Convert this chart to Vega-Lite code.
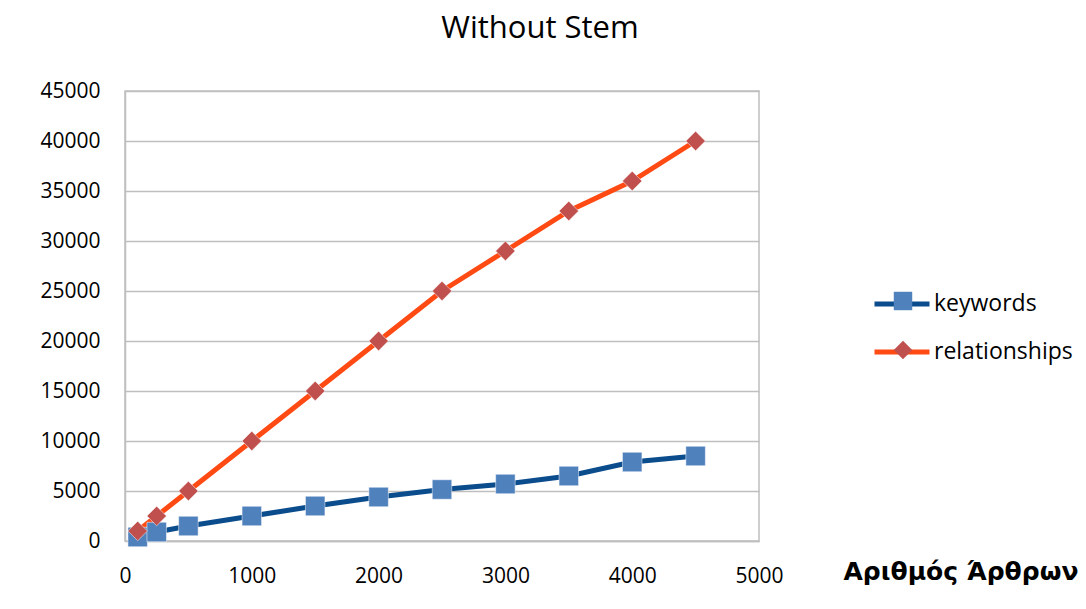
{
  "$schema": "https://vega.github.io/schema/vega-lite/v6.json",
  "width": 634,
  "height": 450,
  "autosize": {"type": "none"},
  "padding": {"left": 125, "top": 91, "right": 327, "bottom": 68},
  "title": {"text": "Without Stem", "fontSize": 31, "font": "Open Sans", "fontWeight": "normal", "color": "#000000", "anchor": "middle", "dx": 98, "offset": 35},
  "config": {
    "view": {"stroke": "#BFBFBF", "strokeWidth": 1.5},
    "axis": {"labelFont": "Open Sans", "labelFontSize": 21, "labelColor": "#000000", "ticks": false, "domainColor": "#BFBFBF", "domainWidth": 1.5, "gridColor": "#BFBFBF", "gridWidth": 1.5}
  },
  "data": {"values": [
    {"n": 100, "series": "keywords", "value": 400},
    {"n": 250, "series": "keywords", "value": 900},
    {"n": 500, "series": "keywords", "value": 1500},
    {"n": 1000, "series": "keywords", "value": 2500},
    {"n": 1500, "series": "keywords", "value": 3500},
    {"n": 2000, "series": "keywords", "value": 4400},
    {"n": 2500, "series": "keywords", "value": 5150},
    {"n": 3000, "series": "keywords", "value": 5700},
    {"n": 3500, "series": "keywords", "value": 6500},
    {"n": 4000, "series": "keywords", "value": 7900},
    {"n": 4500, "series": "keywords", "value": 8500},
    {"n": 100, "series": "relationships", "value": 1000},
    {"n": 250, "series": "relationships", "value": 2500},
    {"n": 500, "series": "relationships", "value": 5000},
    {"n": 1000, "series": "relationships", "value": 10000},
    {"n": 1500, "series": "relationships", "value": 15000},
    {"n": 2000, "series": "relationships", "value": 20000},
    {"n": 2500, "series": "relationships", "value": 25000},
    {"n": 3000, "series": "relationships", "value": 29000},
    {"n": 3500, "series": "relationships", "value": 33000},
    {"n": 4000, "series": "relationships", "value": 36000},
    {"n": 4500, "series": "relationships", "value": 40000}
  ]},
  "encoding": {
    "x": {"field": "n", "type": "quantitative", "scale": {"domain": [0, 5000], "nice": false},
      "axis": {"values": [0, 1000, 2000, 3000, 4000, 5000], "format": "d", "grid": false, "labelPadding": 24, "labelFlush": false,
        "title": "Αριθμός Άρθρων", "titleFont": "DejaVu Sans", "titleFontWeight": "bold", "titleFontSize": 25, "titleColor": "#000000",
        "titleAlign": "left", "titleAnchor": null, "titleX": 718, "titleY": 30, "titleBaseline": "middle"}},
    "y": {"field": "value", "type": "quantitative", "scale": {"domain": [0, 45000], "nice": false},
      "axis": {"values": [0, 5000, 10000, 15000, 20000, 25000, 30000, 35000, 40000, 45000], "format": "d", "labelPadding": 25, "title": null}}
  },
  "layer": [
    {
      "mark": {"type": "line", "strokeWidth": 5},
      "encoding": {
        "stroke": {"field": "series", "type": "nominal",
          "scale": {"range": ["#0B4C8C", "#FF4A14"]},
          "legend": {"title": null, "orient": "none", "legendX": 747, "legendY": 183, "padding": 0,
            "symbolType": "stroke", "symbolSize": 3025, "symbolStrokeWidth": 5, "labelFont": "Open Sans", "labelFontSize": 23, "labelColor": "#000000", "labelOffset": 2, "rowPadding": 6}}
      }
    },
    {
      "mark": {"type": "point", "filled": true, "opacity": 1, "stroke": "#ffffff", "strokeWidth": 0.5},
      "encoding": {
        "fill": {"field": "series", "type": "nominal",
          "scale": {"domain": ["keywords", "relationships"], "range": ["#4F81BD", "#C0504D"]},
          "legend": {"title": null, "orient": "none", "legendX": 768, "legendY": 200, "padding": 0,
            "symbolSize": 340, "symbolStrokeWidth": 0, "labelFont": "Open Sans", "labelFontSize": 20, "labelOpacity": 0, "rowPadding": 29}},
        "shape": {"field": "series", "type": "nominal",
          "scale": {"domain": ["keywords", "relationships"], "range": ["square", "diamond"]}},
        "size": {"value": 380}
      }
    }
  ]
}
